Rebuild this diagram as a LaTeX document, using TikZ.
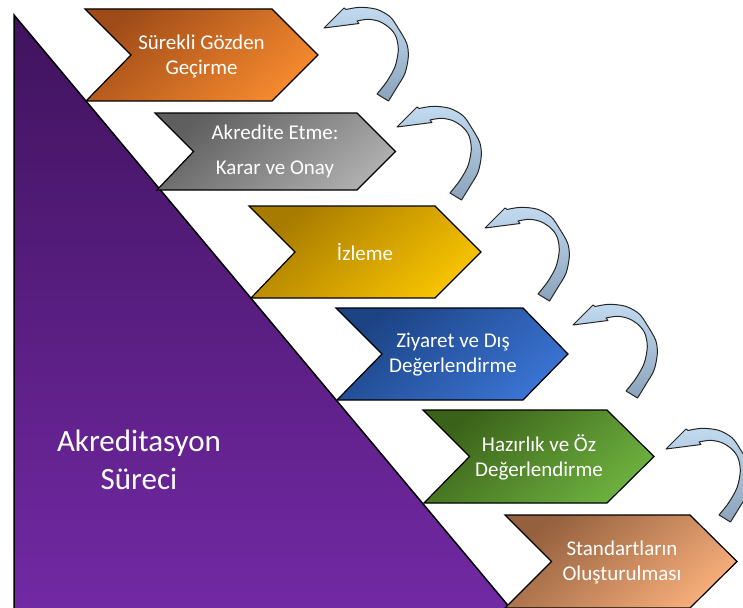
\documentclass[tikz,border=0pt]{standalone}
\usepackage{fontspec}
\setmainfont{Carlito}
\usepackage{tikz}

\definecolor{purpleTop}{HTML}{40135E}
\definecolor{purpleBottom}{HTML}{7229A4}
\definecolor{orangeA}{HTML}{A04C18}
\definecolor{orangeB}{HTML}{F5892E}
\definecolor{grayA}{HTML}{5F5F5F}
\definecolor{grayB}{HTML}{ADADAD}
\definecolor{yellowA}{HTML}{A77A00}
\definecolor{yellowB}{HTML}{F7C300}
\definecolor{blueA}{HTML}{1C4384}
\definecolor{blueB}{HTML}{3A73D2}
\definecolor{greenA}{HTML}{3B6219}
\definecolor{greenB}{HTML}{6DB03F}
\definecolor{peachA}{HTML}{94603D}
\definecolor{peachB}{HTML}{F6AD7A}
\definecolor{arrowTop}{HTML}{C2DAF0}
\definecolor{arrowBottom}{HTML}{8AA3BB}

\tikzset{
  chev/.style 2 args={draw=black, line width=1.2pt, line join=miter, top color=#1, bottom color=#2, shading angle=40},
  steptext/.style={text=white, align=center, font=\fontsize{21}{25}\selectfont},
  backarrow/.style={draw=black!85, line width=1pt, line join=round, top color=arrowTop, bottom color=arrowBottom}
}

\begin{document}
\begin{tikzpicture}[x=1pt,y=-1pt]
\useasboundingbox (0,0) rectangle (743,607);
\clip (0,0) rectangle (743,607);
\fill [white] (0,0) rectangle (743,607);

% big triangle
\draw [line width=1.5pt, top color=purpleTop, bottom color=purpleBottom] (14,15) -- (511,609) -- (14,609) -- cycle;
\node [text=white, align=center, font=\fontsize{31}{38}\selectfont] (process) at (139,460) {Akreditasyon\\Süreci};

% steps
\draw [chev={orangeA}{orangeB}] (85,9) -- (272,9) -- (318,55) -- (272,101) -- (86,101) -- (131,55) -- cycle;
\node [steptext] (review) at (201.5,56) {Sürekli Gözden\\Geçirme};

\draw [chev={grayA}{grayB}] (155,113) -- (357,113) -- (395.5,151.5) -- (357,190) -- (157,190) -- (193.5,151.5) -- cycle;
\node [steptext] (approve) at (275,151.5) {Akredite Etme:\\[10pt]Karar ve Onay};

\draw [chev={yellowA}{yellowB}] (249,206) -- (435,206) -- (481,252) -- (435,298) -- (251,298) -- (295,252) -- cycle;
\node [steptext] (monitor) at (365,252) {İzleme};

\draw [chev={blueA}{blueB}] (336,308) -- (523,308) -- (568,354) -- (523,400) -- (337,400) -- (382,354) -- cycle;
\node [steptext] (visit) at (453,355) {Ziyaret ve Dış\\Değerlendirme};

\draw [chev={greenA}{greenB}] (423,410) -- (607,410) -- (654,456.5) -- (607,503) -- (424,503) -- (469.5,456.5) -- cycle;
\node [steptext] (selfeval) at (539,457) {Hazırlık ve Öz\\Değerlendirme};

\draw [chev={peachA}{peachB}] (505,515) -- (690,515) -- (737,561.5) -- (690,608) -- (505,608) -- (551.5,561.5) -- cycle;
\node [steptext] (standards) at (622,562) {Standartların\\Oluşturulması};

% curved arrows back up
\foreach \tx/\ty in {324/28, 397/127, 485/228, 573/325, 666/449}
  \draw [backarrow, shift={(\tx,\ty)}] (0,0) -- (20,-20) -- (22,-18.5)
    -- plot [smooth] coordinates {(22,-18.5) (36,-20.7) (52.7,-18.7) (66,-11.3) (74.3,0.3) (82.7,15.3) (84.3,28.7) (81,45.3) (73.3,58.7) (64.5,73)}
    -- (53,66)
    -- plot [smooth] coordinates {(53,66) (62.7,53.7) (71,38.7) (74.3,22) (72,8.7) (66,0.3) (56,-6.3) (44.3,-8.7) (33,-7)}
    -- (35,-4.5) -- cycle;
\end{tikzpicture}
\end{document}
